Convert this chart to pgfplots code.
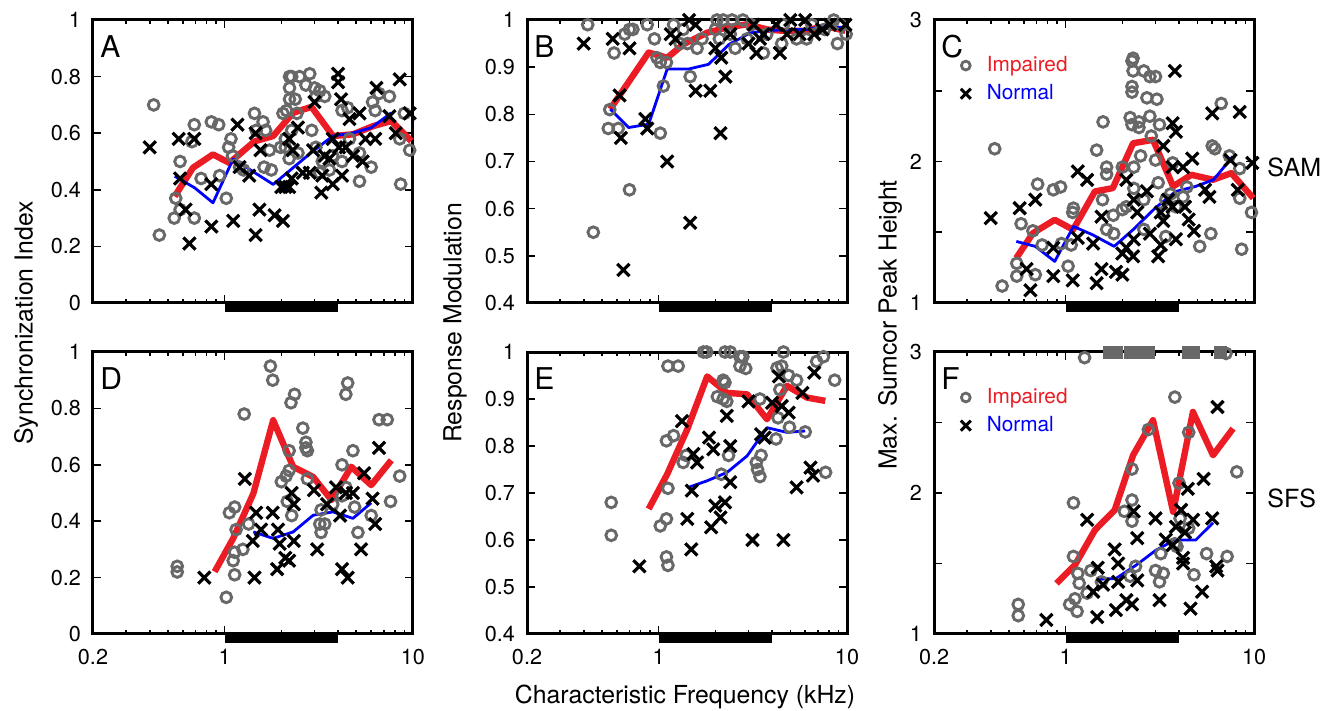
\documentclass[border=0pt]{standalone}
\usepackage{fontspec}
\setmainfont{TeX Gyre Heros}
\usepackage{pgfplots}
\pgfplotsset{compat=1.18}
\usepackage{xcolor}

\definecolor{mgray}{RGB}{104,104,104}
\definecolor{mred}{RGB}{236,28,36}
\newcommand\tickfont{\fontsize{10.8}{12}\selectfont}
\newcommand\labfont{\fontsize{12.4}{14}\selectfont}
\newcommand\letfont{\fontsize{15}{17}\selectfont}
\newcommand\legfont{\fontsize{10.4}{12}\selectfont}

\pgfplotsset{
  cfpanel/.style={
    scale only axis, width=160pt, height=141.5pt, anchor=south west,
    xmin=0.2, xmax=10,
    xtick={0.2,1,10}, xticklabels={0.2,1,10},
    minor xtick={0.3,0.4,0.5,0.6,0.7,0.8,0.9,2,3,4,5,6,7,8,9},
    tick align=inside, tick pos=both,
    major tick length=4pt, minor tick length=2pt,
    tick style={black, line width=0.8pt},
    axis line style={line width=1.5pt},
    ticklabel style={font=\tickfont},
    yticklabel style={xshift=-2.5pt},
    xticklabel style={yshift=-4pt},
    clip=false,
    legend style={draw=none, fill=none, at={(0.07,0.883)}, anchor=north west,
      inner sep=0pt, row sep=2pt, nodes={inner ysep=1.5pt, inner xsep=3.5pt}},
    legend cell align=left,
  },
  cftop/.style={xticklabels={}},
  cfsyn/.style={ymin=0, ymax=1, ytick={0,0.2,0.4,0.6,0.8,1}, yticklabels={0,0.2,0.4,0.6,0.8,1}},
  cfmod/.style={ymin=0.4, ymax=1, ytick={0.4,0.5,0.6,0.7,0.8,0.9,1}, yticklabels={0.4,0.5,0.6,0.7,0.8,0.9,1}},
  cfsum/.style={ymin=1, ymax=3, ytick={1,1.5,2,2.5,3}, yticklabels={1,,2,,3}},
  cfimp/.style={only marks, mark=o, mark size=2.7pt, draw=mgray, line width=1.45pt,
    mark options={line width=1.45pt},
    legend image code/.code={\draw[mgray, line width=1.4pt] (0pt,0pt) circle (2.2pt);
      \path[draw=none, fill=none] (-4.5pt,-4pt) rectangle (7pt,4pt);}},
  cfnor/.style={only marks, mark=x, mark size=4.3pt, black, line width=1.6pt,
    mark options={line width=1.6pt},
    legend image code/.code={\draw[black, line width=1.5pt] (-2.5pt,-2.5pt) -- (2.5pt,2.5pt) (-2.5pt,2.5pt) -- (2.5pt,-2.5pt);
      \path[draw=none, fill=none] (-4.5pt,-4pt) rectangle (7pt,4pt);}},
  cfred/.style={no marks, mred, line width=3.2pt, line join=round, forget plot},
  cfblue/.style={no marks, blue, line width=1.4pt, line join=round, forget plot},
}
\newcommand\cfbar[1]{\addplot[black, line width=4pt, yshift=-2.6pt, forget plot] coordinates {(1,#1) (4,#1)};}
\newcommand\panelletter[1]{\node[anchor=north west, inner sep=0pt, font=\letfont] at (rel axis cs:0.022,0.947) {#1};}

\begin{document}
\begin{tikzpicture}
\useasboundingbox (0,0) rectangle (661pt,355.5pt);

% A
\begin{axis}[xmode=log, cfpanel, cftop, cfsyn, at={(46.5pt,204pt)}]
\addplot[cfimp] coordinates {(0.42,0.70) (0.45,0.24) (0.58,0.50) (0.55,0.37) (0.54,0.30) (0.58,0.33) (0.69,0.63) (0.67,0.57) (0.69,0.30) (0.75,0.44) (0.85,0.64) (0.93,0.63) (0.94,0.45) (1.02,0.37) (1.05,0.55) (1.08,0.58) (1.10,0.52) (1.20,0.48) (1.26,0.47) (1.44,0.67) (1.60,0.64) (1.65,0.61) (1.62,0.48) (1.77,0.47) (1.73,0.54) (1.47,0.61) (2.04,0.67) (2.10,0.55) (2.21,0.80) (2.27,0.80) (2.50,0.80) (2.83,0.81) (2.21,0.76) (2.37,0.72) (2.21,0.72) (2.13,0.68) (2.70,0.77) (3.00,0.76) (3.20,0.75) (3.40,0.73) (3.05,0.73) (2.42,0.67) (2.27,0.61) (2.10,0.58) (1.98,0.55) (2.20,0.51) (2.45,0.53) (2.90,0.61) (3.05,0.55) (3.30,0.50) (3.60,0.47) (3.75,0.52) (4.20,0.50) (4.50,0.69) (4.60,0.58) (5.20,0.43) (5.20,0.53) (6.00,0.48) (6.10,0.71) (6.30,0.68) (6.60,0.74) (7.50,0.73) (8.50,0.58) (8.60,0.42) (9.60,0.54) (9.00,0.67) (4.20,0.68) (3.20,0.46)};
\addplot[cfnor] coordinates {(0.40,0.55) (0.57,0.58) (0.69,0.58) (0.58,0.44) (0.62,0.33) (0.65,0.21) (0.85,0.42) (0.85,0.27) (1.11,0.29) (1.17,0.63) (1.20,0.48) (1.35,0.45) (1.46,0.60) (1.55,0.54) (1.46,0.24) (1.53,0.33) (1.84,0.31) (2.04,0.29) (2.00,0.41) (2.10,0.41) (2.20,0.41) (2.27,0.44) (2.20,0.58) (2.30,0.54) (2.45,0.62) (2.83,0.46) (3.00,0.71) (3.26,0.39) (3.30,0.45) (3.40,0.52) (3.60,0.51) (3.75,0.58) (4.00,0.81) (4.00,0.78) (4.15,0.72) (4.20,0.45) (4.05,0.55) (4.40,0.55) (4.60,0.65) (4.80,0.52) (5.20,0.67) (5.40,0.50) (5.60,0.58) (6.30,0.58) (6.40,0.76) (8.10,0.60) (8.50,0.79) (9.60,0.67) (7.50,0.66) (2.95,0.54) (2.60,0.46) (3.75,0.42)};
\addplot[cfred] coordinates {(0.543,0.377) (0.679,0.478) (0.867,0.525) (1.06,0.495) (1.44,0.571) (1.81,0.590) (2.31,0.672) (2.89,0.693) (3.76,0.590) (4.8,0.596) (6.14,0.625) (7.67,0.643) (9.8,0.572)};
\addplot[cfblue] coordinates {(0.543,0.448) (0.693,0.407) (0.867,0.354) (1.11,0.509) (1.81,0.419) (2.95,0.537) (3.76,0.590) (4.8,0.601) (6.0,0.619) (7.67,0.672)};
\cfbar{0}
\panelletter{A}
\end{axis}

% B
\begin{axis}[xmode=log, cfpanel, cftop, cfmod, at={(263.5pt,204pt)}]
\addplot[cfimp] coordinates {(0.42,0.99) (0.45,0.55) (0.58,0.93) (0.55,0.81) (0.54,0.77) (0.61,0.77) (0.66,0.97) (0.70,0.98) (0.73,0.98) (0.70,0.64) (0.87,0.99) (0.95,0.96) (1.02,0.76) (1.06,0.86) (1.02,0.91) (0.98,0.92) (1.10,0.91) (1.20,0.99) (1.30,0.95) (1.47,0.88) (1.42,0.95) (1.60,0.94) (1.70,0.96) (2.04,1.0) (2.20,1.0) (2.45,1.0) (2.80,1.0) (2.55,0.94) (3.60,0.93) (3.75,0.97) (5.40,0.96) (6.10,0.96) (8.90,0.95) (9.90,0.97) (8.50,1.0) (9.20,0.99) (4.60,0.99) (3.10,0.99) (2.00,0.98) (6.50,0.99) (2.95,0.96) (2.10,0.96) (4.50,0.95) (7.60,0.98) (2.40,0.97) (1.35,0.98)};
\addplot[cfnor] coordinates {(0.40,0.95) (0.57,0.96) (0.70,0.94) (0.62,0.84) (0.63,0.75) (0.65,0.47) (0.85,0.79) (0.87,0.77) (1.11,0.70) (1.16,0.97) (1.23,0.96) (1.45,1.0) (1.57,0.85) (1.88,0.85) (1.47,0.57) (2.13,0.76) (2.26,0.88) (2.00,0.94) (2.15,0.92) (1.57,0.99) (3.00,0.95) (3.30,0.93) (3.20,0.99) (4.40,0.93) (3.60,0.97) (4.20,0.99) (5.00,1.0) (5.60,0.97) (6.00,1.0) (6.70,0.97) (8.10,0.99) (9.80,0.99) (4.80,0.97) (3.45,0.96) (2.40,0.97) (7.40,0.98)};
\addplot[cfred] coordinates {(0.553,0.811) (0.885,0.931) (1.11,0.920) (1.36,0.949) (1.81,0.973) (2.31,0.984) (2.95,0.991) (3.76,0.980) (4.6,0.977) (5.9,0.977) (7.67,0.987) (9.8,0.977)};
\addplot[cfblue] coordinates {(0.553,0.811) (0.693,0.772) (0.885,0.779) (1.11,0.896) (1.44,0.896) (1.84,0.906) (2.36,0.948) (3.07,0.973) (3.76,0.977) (4.8,0.98) (6.14,0.98) (7.67,0.987) (9.6,0.984)};
\cfbar{0.4}
\panelletter{B}
\end{axis}

% C
\begin{axis}[xmode=log, cfpanel, cftop, cfsum, at={(467pt,204pt)}]
\addplot[cfimp] coordinates {(0.42,2.09) (0.46,1.12) (0.55,1.19) (0.55,1.28) (0.58,1.56) (0.67,1.51) (0.69,1.20) (0.71,1.84) (0.75,1.41) (0.86,1.80) (0.94,1.82) (1.03,1.26) (0.95,1.42) (1.09,1.64) (1.10,1.67) (1.07,1.41) (1.46,2.08) (1.58,2.28) (1.65,1.96) (1.65,1.91) (1.57,1.73) (1.79,1.62) (1.80,1.49) (1.65,1.52) (2.00,1.96) (2.10,1.68) (2.00,1.66) (2.28,2.73) (2.25,2.71) (2.28,2.64) (2.60,2.64) (2.80,2.60) (3.00,2.60) (2.25,2.53) (2.25,2.49) (2.70,2.45) (3.05,2.44) (2.20,2.31) (2.25,2.26) (2.45,2.28) (2.80,2.32) (3.15,2.26) (2.45,2.24) (2.85,2.18) (3.00,2.01) (2.50,2.04) (2.30,1.96) (2.30,1.81) (2.60,1.73) (2.60,1.52) (3.10,1.85) (3.30,1.64) (3.40,1.47) (3.70,1.99) (3.85,1.68) (4.20,1.75) (5.15,1.40) (5.90,1.49) (6.00,2.11) (6.20,2.09) (6.70,2.41) (7.40,2.04) (8.40,1.95) (8.60,1.38) (8.40,1.74) (9.70,1.64) (3.60,1.77) (3.40,1.73) (4.40,1.82)};
\addlegendentry{\legfont\textcolor{mred}{Impaired}}
\addplot[cfnor] coordinates {(0.40,1.60) (0.57,1.67) (0.69,1.73) (0.62,1.24) (0.65,1.09) (0.86,1.39) (0.86,1.19) (1.09,1.16) (1.16,1.93) (1.30,1.87) (1.16,1.46) (1.40,1.42) (1.55,1.61) (1.55,1.24) (1.46,1.14) (1.85,1.22) (2.00,1.20) (2.00,1.35) (2.10,1.39) (2.28,1.33) (2.10,1.87) (2.30,1.73) (2.40,1.64) (2.70,1.79) (2.80,1.49) (3.10,1.33) (3.20,1.41) (3.30,2.11) (3.20,1.64) (3.30,1.58) (3.70,2.27) (3.85,2.21) (3.80,2.64) (3.70,1.96) (3.70,1.68) (3.85,1.45) (4.20,1.96) (4.30,1.68) (4.50,1.59) (4.70,2.02) (4.80,1.51) (5.50,1.80) (5.80,1.75) (6.00,2.34) (8.40,2.35) (7.50,2.01) (8.20,1.80) (9.80,1.99) (2.30,1.45) (3.50,1.73)};
\addlegendentry{\legfont\textcolor{blue}{Normal}}
\addplot[cfred] coordinates {(0.547,1.318) (0.671,1.494) (0.875,1.588) (1.095,1.518) (1.43,1.788) (1.78,1.812) (2.28,2.129) (2.91,2.153) (3.72,1.824) (4.65,1.906) (6.06,1.871) (7.58,1.918) (9.9,1.741)};
\addplot[cfblue] coordinates {(0.547,1.435) (0.69,1.40) (0.875,1.294) (1.1,1.541) (1.39,1.482) (1.81,1.40) (2.28,1.518) (2.99,1.671) (3.84,1.788) (4.9,1.824) (6.1,1.871) (7.7,2.035)};
\cfbar{1}
\panelletter{C}
\end{axis}

% D
\begin{axis}[xmode=log, cfpanel, cfsyn, at={(46.5pt,38.5pt)}, height=141pt]
\addplot[cfimp] coordinates {(0.56,0.24) (0.56,0.22) (1.02,0.13) (1.13,0.21) (1.11,0.26) (1.13,0.29) (1.06,0.43) (1.13,0.45) (1.15,0.37) (1.25,0.30) (1.34,0.39) (1.27,0.78) (1.75,0.95) (1.80,0.90) (2.00,0.54) (2.12,0.56) (2.20,0.58) (2.20,0.65) (2.25,0.82) (2.35,0.85) (2.60,0.73) (2.70,0.68) (2.75,0.65) (2.70,0.66) (2.15,0.47) (2.27,0.42) (2.75,0.55) (3.20,0.39) (3.25,0.36) (3.40,0.39) (3.25,0.44) (3.75,0.46) (4.20,0.60) (4.50,0.89) (4.40,0.85) (4.80,0.65) (4.20,0.49) (4.90,0.45) (5.10,0.36) (6.00,0.42) (6.60,0.76) (7.30,0.76) (7.60,0.47) (8.50,0.56) (4.40,0.52)};
\addplot[cfnor] coordinates {(0.78,0.20) (1.28,0.55) (1.44,0.20) (1.47,0.43) (1.41,0.33) (1.56,0.37) (1.80,0.43) (1.90,0.23) (1.92,0.37) (1.96,0.32) (2.10,0.27) (2.20,0.26) (2.27,0.50) (2.33,0.46) (2.33,0.33) (2.98,0.51) (3.10,0.30) (3.50,0.46) (3.90,0.52) (4.10,0.42) (4.20,0.23) (4.50,0.20) (4.40,0.50) (4.80,0.50) (5.30,0.30) (5.50,0.57) (6.10,0.48) (6.30,0.39) (6.60,0.66)};
\addplot[cfred] coordinates {(0.885,0.221) (1.11,0.339) (1.42,0.498) (1.81,0.758) (2.31,0.593) (2.95,0.557) (3.69,0.475) (4.7,0.593) (6.0,0.528) (7.67,0.616)};
\addplot[cfblue] coordinates {(1.42,0.362) (1.81,0.339) (2.31,0.362) (2.95,0.421) (3.76,0.433) (4.8,0.41) (6.0,0.465)};
\cfbar{0}
\panelletter{D}
\end{axis}

% E
\begin{axis}[xmode=log, cfpanel, cfmod, at={(263.5pt,38.5pt)}, height=141pt]
\addplot[cfimp] coordinates {(0.56,0.68) (0.56,0.61) (1.02,0.63) (1.10,0.645) (1.10,0.564) (1.12,0.546) (1.10,0.811) (1.20,0.822) (1.12,0.71) (1.12,0.97) (1.27,0.97) (1.35,0.765) (1.40,0.78) (1.73,1.0) (1.80,1.0) (2.25,1.0) (2.40,1.0) (2.70,0.99) (2.80,0.99) (2.70,0.97) (2.90,0.965) (2.20,0.94) (2.25,0.935) (2.05,0.905) (2.20,0.90) (2.30,0.895) (2.35,0.78) (2.15,0.74) (3.45,0.90) (3.30,0.765) (3.35,0.75) (3.45,0.735) (3.50,0.78) (4.20,0.815) (4.30,0.86) (4.25,0.966) (4.50,0.97) (4.60,1.0) (4.40,0.92) (4.90,0.95) (5.40,0.94) (4.95,0.84) (6.00,0.83) (6.90,0.98) (7.50,0.99) (7.70,0.744) (8.60,0.94)};
\addplot[cfnor] coordinates {(0.79,0.544) (1.33,0.853) (1.42,0.645) (1.49,0.58) (1.50,0.705) (1.53,0.783) (1.60,0.765) (1.85,0.818) (1.95,0.793) (1.90,0.627) (2.00,0.673) (2.13,0.648) (2.25,0.68) (2.30,0.864) (2.40,0.80) (2.40,0.723) (3.00,0.895) (3.15,0.60) (3.50,0.825) (3.65,0.818) (4.00,0.892) (4.35,0.948) (4.50,0.885) (4.90,0.871) (4.60,0.60) (5.40,0.712) (5.80,0.913) (6.40,0.754) (6.60,0.737) (6.70,0.956)};
\addplot[cfred] coordinates {(0.885,0.666) (1.11,0.740) (1.42,0.836) (1.81,0.948) (2.31,0.913) (2.95,0.910) (3.76,0.857) (4.8,0.928) (6.14,0.903) (7.67,0.896)};
\addplot[cfblue] coordinates {(1.44,0.712) (1.81,0.726) (2.31,0.744) (2.95,0.779) (3.76,0.839) (4.8,0.829) (6.0,0.832)};
\cfbar{0.4}
\panelletter{E}
\end{axis}

% F
\begin{axis}[xmode=log, cfpanel, cfsum, at={(467pt,38.5pt)}, height=141pt]
\addplot[cfimp] coordinates {(0.56,1.21) (0.56,1.13) (1.26,2.96) (1.10,1.93) (1.10,1.55) (1.16,1.43) (1.18,1.36) (1.12,1.25) (1.05,1.21) (1.15,1.16) (1.30,1.29) (1.36,1.45) (1.55,1.37) (2.05,1.87) (2.25,1.95) (2.25,1.80) (2.25,2.17) (2.75,2.45) (2.35,1.48) (2.20,1.41) (3.00,1.45) (3.15,1.37) (3.20,1.57) (3.30,1.43) (3.80,2.68) (3.90,1.62) (4.00,2.07) (4.05,1.82) (4.50,1.75) (4.50,2.43) (4.80,1.42) (5.60,1.57) (7.10,2.99) (7.20,1.55) (8.10,2.15) (3.80,1.64)};
\addlegendentry{\legfont\textcolor{mred}{Impaired}}
\addplot[cfnor] coordinates {(0.79,1.10) (1.30,1.81) (1.40,1.30) (1.47,1.12) (1.48,1.47) (1.58,1.35) (1.82,1.60) (1.90,1.50) (1.90,1.37) (1.85,1.17) (2.10,1.24) (2.25,1.21) (2.30,1.87) (2.40,1.68) (2.40,1.38) (3.00,1.82) (3.15,1.24) (3.40,1.67) (3.70,1.63) (3.85,1.76) (4.10,1.88) (4.20,1.54) (4.20,1.50) (4.45,2.03) (4.30,1.72) (4.60,1.18) (4.75,1.81) (5.30,1.30) (5.40,2.10) (6.00,1.82) (6.30,1.48) (6.40,1.45) (6.40,2.61)};
\addlegendentry{\legfont\textcolor{blue}{Normal}}
\addplot[only marks, mark=square*, mark size=3pt, mgray, forget plot] coordinates {(1.70,3) (1.85,3) (2.20,3) (2.35,3) (2.55,3) (2.75,3) (4.50,3) (4.75,3) (6.60,3)};
\addplot[cfred] coordinates {(0.893,1.359) (1.12,1.489) (1.43,1.737) (1.82,1.878) (2.28,2.268) (2.91,2.516) (3.72,1.867) (4.74,2.575) (6.06,2.268) (7.74,2.457)};
\addplot[cfblue] coordinates {(1.46,1.387) (1.85,1.394) (2.37,1.489) (3.02,1.595) (3.8,1.666) (4.9,1.666) (6.06,1.789)};
\cfbar{1}
\panelletter{F}
\end{axis}

\node[rotate=90, font=\labfont] at (13pt,194pt) {Synchronization Index};
\node[rotate=90, font=\labfont] at (227.5pt,194pt) {Response Modulation};
\node[rotate=90, font=\labfont] at (445pt,193pt) {Max. Sumcor Peak Height};
\node[font=\labfont] at (342.5pt,7pt) {Characteristic Frequency (kHz)};
\node[anchor=west, inner sep=0pt, font=\fontsize{12.5}{14}\selectfont] at (633.5pt,272pt) {SAM};
\node[anchor=west, inner sep=0pt, font=\fontsize{12.5}{14}\selectfont] at (633.5pt,106.5pt) {SFS};
\end{tikzpicture}
\end{document}
